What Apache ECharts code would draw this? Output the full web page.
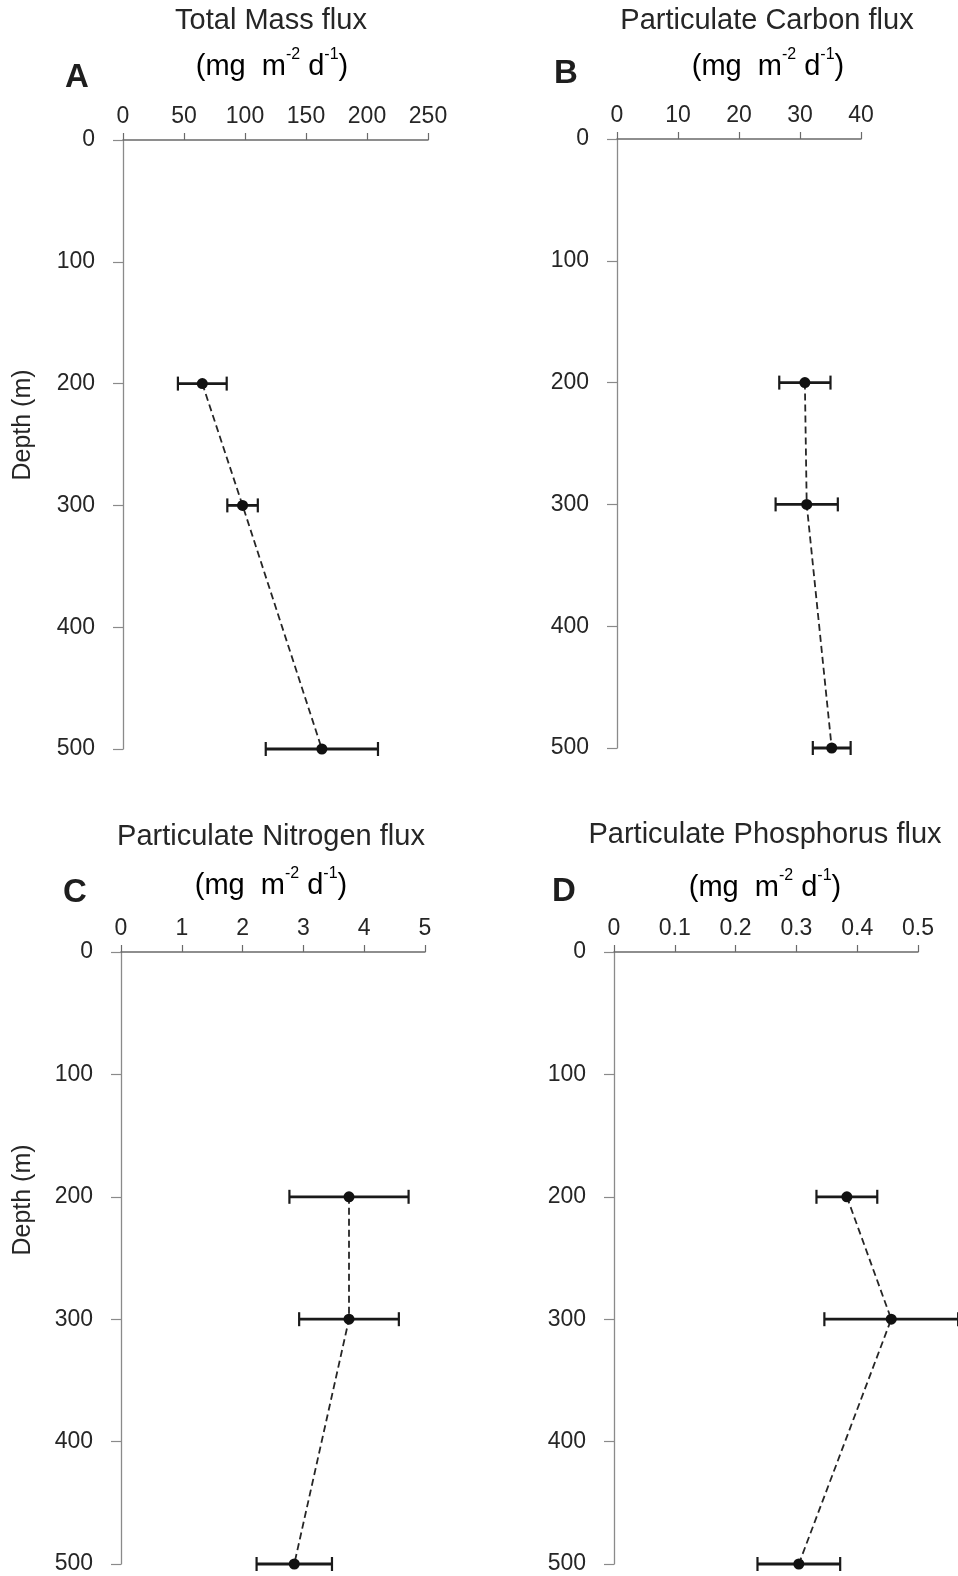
<!DOCTYPE html>
<html>
<head>
<meta charset="utf-8">
<script src="https://cdn.jsdelivr.net/npm/echarts@6/dist/echarts.min.js"></script>
<style>
  html, body { margin: 0; padding: 0; background: #fff; }
  #chart { width: 958px; height: 1576px; }
</style>
</head>
<body>
<div id="chart"></div>
<script>
// depths of the sediment traps (m)
const depths = [200, 300, 500];

// A - total mass flux
const massFlux = [65, 98, 163];
const massErr = [20, 12.5, 46];
// B - particulate carbon
const carbonFlux = [30.8, 31.1, 35.2];
const carbonErr = [4.2, 5.1, 3.1];
// C - particulate nitrogen
const nitrogenFlux = [3.75, 3.75, 2.85];
const nitrogenErr = [0.98, 0.82, 0.62];
// D - particulate phosphorus
const phosFlux = [0.383, 0.456, 0.304];
const phosErr = [0.05, 0.11, 0.068];

const depthTicks = { min: 0, max: 500, interval: 100 };

const ink = '#262626';
const axisGray = '#6a6a6a';
const font = 'Liberation Sans, Arial, sans-serif';

const panels = [
  { letter: 'A', title: 'Total Mass flux', grid: { left: 123, top: 140, width: 305, height: 609 },
    max: 250, interval: 50, values: massFlux, errors: massErr,
    titleX: 271, titleY: 21, unitX: 272, unitY: 64, letterX: 77, letterY: 78 },
  { letter: 'B', title: 'Particulate Carbon flux', grid: { left: 617, top: 139, width: 244, height: 609 },
    max: 40, interval: 10, values: carbonFlux, errors: carbonErr,
    titleX: 767, titleY: 21, unitX: 768, unitY: 64, letterX: 566, letterY: 74 },
  { letter: 'C', title: 'Particulate Nitrogen flux', grid: { left: 121, top: 952, width: 304, height: 612 },
    max: 5, interval: 1, values: nitrogenFlux, errors: nitrogenErr,
    titleX: 271, titleY: 837, unitX: 271, unitY: 883, letterX: 75, letterY: 893 },
  { letter: 'D', title: 'Particulate Phosphorus flux', grid: { left: 614, top: 952, width: 304, height: 612 },
    max: 0.5, interval: 0.1, values: phosFlux, errors: phosErr,
    titleX: 765, titleY: 835, unitX: 765, unitY: 885, letterX: 564, letterY: 892 }
];

const chart = echarts.init(document.getElementById('chart'));

const grids = [], xAxes = [], yAxes = [], series = [], graphics = [];

panels.forEach(function (p, i) {
  grids.push(Object.assign({}, p.grid));

  xAxes.push({
    gridIndex: i, type: 'value', position: 'top',
    min: 0, max: p.max, interval: p.interval,
    axisLine: { show: true, lineStyle: { color: axisGray, width: 1.5 } },
    axisTick: { show: true, length: 7, lineStyle: { color: axisGray, width: 1.2 } },
    axisLabel: { margin: 12, fontSize: 23, color: ink, fontFamily: font },
    splitLine: { show: false }
  });

  yAxes.push({
    gridIndex: i, type: 'value', inverse: true,
    min: depthTicks.min, max: depthTicks.max, interval: depthTicks.interval,
    axisLine: { show: true, onZero: false, lineStyle: { color: '#8a8a8a', width: 1.3 } },
    axisTick: { show: true, length: 10, lineStyle: { color: '#8a8a8a', width: 1.2 } },
    axisLabel: { margin: 28, fontSize: 23, color: ink, fontFamily: font },
    splitLine: { show: false }
  });

  const pts = depths.map(function (d, k) { return [p.values[k], d]; });
  const bars = depths.map(function (d, k) { return [p.values[k], d, p.errors[k]]; });

  series.push({
    type: 'line', xAxisIndex: i, yAxisIndex: i,
    data: pts, symbol: 'circle', symbolSize: 11,
    itemStyle: { color: '#111' },
    lineStyle: { color: ink, width: 1.8, type: [7, 4] },
    z: 3, animation: false
  });

  series.push({
    type: 'custom', xAxisIndex: i, yAxisIndex: i,
    data: bars, encode: { x: 0, y: 1 }, clip: false, z: 2, animation: false,
    renderItem: function (params, api) {
      const v = api.value(0), d = api.value(1), e = api.value(2);
      const lo = api.coord([v - e, d]);
      const hi = api.coord([v + e, d]);
      const cap = 7;
      const st = { stroke: '#1a1a1a', lineWidth: 2.8 };
      const capSt = { stroke: '#1a1a1a', lineWidth: 2.2 };
      return {
        type: 'group',
        children: [
          { type: 'line', shape: { x1: lo[0], y1: lo[1], x2: hi[0], y2: hi[1] }, style: st },
          { type: 'line', shape: { x1: lo[0], y1: lo[1] - cap, x2: lo[0], y2: lo[1] + cap }, style: capSt },
          { type: 'line', shape: { x1: hi[0], y1: hi[1] - cap, x2: hi[0], y2: hi[1] + cap }, style: capSt }
        ]
      };
    }
  });

  graphics.push({
    type: 'text', x: p.titleX, y: p.titleY,
    style: { text: p.title, fill: ink, font: '29px ' + font, align: 'center', verticalAlign: 'middle' }
  });
  graphics.push({
    type: 'text', x: p.unitX, y: p.unitY,
    style: {
      text: '{n|(mg  m}{s|-2}{n| d}{s|-1}{n|)}',
      align: 'center', verticalAlign: 'middle',
      rich: {
        n: { fontSize: 29, fontFamily: font, color: ink, lineHeight: 34, verticalAlign: 'bottom' },
        s: { fontSize: 16, fontFamily: font, color: ink, lineHeight: 16, verticalAlign: 'top' }
      }
    }
  });
  graphics.push({
    type: 'text', x: p.letterX, y: p.letterY,
    style: { text: p.letter, fill: '#1e1e1e', font: 'bold 33px ' + font, align: 'center', verticalAlign: 'middle' }
  });
});

// rotated depth labels for the left-hand panels
[{ x: 23, y: 425 }, { x: 23, y: 1200 }].forEach(function (pos) {
  graphics.push({
    type: 'text', x: pos.x, y: pos.y, rotation: Math.PI / 2,
    style: { text: 'Depth (m)', fill: ink, font: '25px ' + font, align: 'center', verticalAlign: 'middle' }
  });
});

chart.setOption({
  backgroundColor: '#fff',
  animation: false,
  grid: grids,
  xAxis: xAxes,
  yAxis: yAxes,
  series: series,
  graphic: graphics
});
</script>
</body>
</html>
